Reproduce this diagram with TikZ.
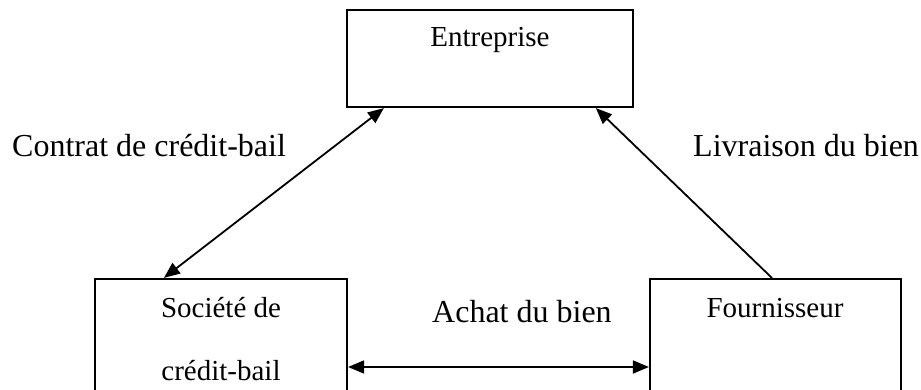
\documentclass[tikz,border=0pt]{standalone}
\usepackage{fontspec}
\setmainfont{Liberation Serif}
\usetikzlibrary{arrows.meta}
\begin{document}
\begin{tikzpicture}[x=1pt,y=-1pt,
  party/.style={draw,line width=2.2pt,inner sep=0pt,minimum width=#1,minimum height=122pt},
  boxtext/.style={anchor=base,inner sep=0pt,font=\fontsize{29}{34}\selectfont},
  flowlabel/.style={anchor=base west,inner sep=0pt,font=\fontsize{32}{38}\selectfont},
  tip/.style={Triangle[length=16pt,width=13pt]},
  flow/.style={line width=1.8pt,-{Triangle[length=16pt,width=13pt]}},
  twoway/.style={line width=1.8pt,{Triangle[length=16pt,width=13pt]}-{Triangle[length=16pt,width=13pt]}}]
  \useasboundingbox (0,0) rectangle (921,390);
  % the three parties
  \node[draw,line width=2.2pt,inner sep=0pt,minimum width=286pt,minimum height=97pt] (ent) at (490,58.5) {};
  \node[party=252pt] (soc) at (221,340) {};
  \node[party=251pt] (four) at (775.5,340) {};
  \node[boxtext] (entname) at (490,47) {Entreprise};
  \node[boxtext] (socname1) at (221,317) {Société de};
  \node[boxtext] (socname2) at (221,380) {crédit-bail};
  \node[boxtext] (fourname) at (775,317) {Fournisseur};
  % flows between them
  \draw[twoway] ([xshift=70pt]soc.north west) -- ([xshift=38pt]ent.south west);
  \draw[flow] ([xshift=123pt]four.north west) -- ([xshift=250pt]ent.south west);
  \draw[twoway] ([yshift=-27pt]soc.east) -- ([yshift=-27pt]four.west);
  % flow labels
  \node[flowlabel] (lcontrat) at (12,157) {Contrat de crédit-bail};
  \node[flowlabel] (llivraison) at (693,157) {Livraison du bien};
  \node[flowlabel] (lachat) at (432,322) {Achat du bien};
\end{tikzpicture}
\end{document}
